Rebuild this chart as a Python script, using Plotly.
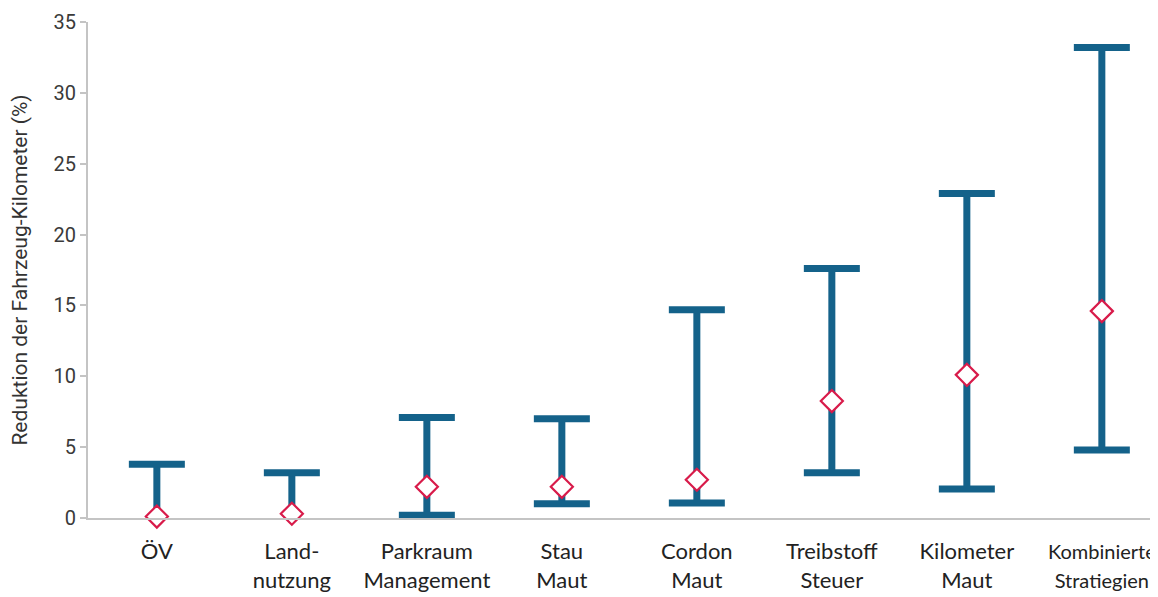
import plotly.graph_objects as go

categories = ["ÖV", "Land-<br>nutzung", "Parkraum<br>Management", "Stau<br>Maut",
              "Cordon<br>Maut", "Treibstoff<br>Steuer", "Kilometer<br>Maut",
              "<span style='font-size:20px'>Kombinierte<br>Stratiegien</span>"]
lowValues = [0.0, 0.0, 0.2, 1.0, 1.05, 3.2, 2.05, 4.8]
highValues = [3.8, 3.2, 7.1, 7.0, 14.7, 17.6, 22.9, 33.2]
midValues = [0.1, 0.3, 2.2, 2.2, 2.7, 8.25, 10.1, 14.6]
hasLowCap = [False, False, True, True, True, True, True, True]

barColor = '#14628a'
pointColor = '#d81b4a'

xs = list(range(len(categories)))

fig = go.Figure()

# stems
stemX, stemY = [], []
for i in xs:
    stemX += [i, i, None]
    stemY += [lowValues[i], highValues[i], None]
fig.add_trace(go.Scatter(x=stemX, y=stemY, mode='lines',
                         line=dict(color=barColor, width=7),
                         showlegend=False, hoverinfo='skip', cliponaxis=False))

# caps
capX = xs + [i for i in xs if hasLowCap[i]]
capY = highValues + [lowValues[i] for i in xs if hasLowCap[i]]
fig.add_trace(go.Scatter(x=capX, y=capY, mode='markers',
                         marker=dict(symbol='line-ew', size=40,
                                     line=dict(color=barColor, width=7)),
                         showlegend=False, hoverinfo='skip', cliponaxis=False))

# mean values
fig.add_trace(go.Scatter(x=xs, y=midValues, mode='markers',
                         marker=dict(symbol='diamond', size=17, color='white',
                                     line=dict(color=pointColor, width=2.2)),
                         showlegend=False, cliponaxis=False))

# page body has an 8px margin, so the figure starts at (8, 8)
fig.update_layout(
    width=1150,
    height=589,
    margin=dict(l=80, r=0, t=14, b=79),
    plot_bgcolor='white',
    paper_bgcolor='white',
    font=dict(family="Lato, sans-serif", size=18, color="#222"),
    xaxis=dict(
        tickmode='array', tickvals=xs, ticktext=categories,
        range=[-0.51, 7.416], automargin=False,
        showgrid=False, zeroline=False,
        showline=True, linecolor='#c4c4c4', linewidth=2,
        ticks='', ticklabelstandoff=13, ticklabeloverflow='allow',
        tickfont=dict(family="Lato, sans-serif", size=22, color='#222'),
    ),
    yaxis=dict(
        range=[0, 35], tickvals=[0, 5, 10, 15, 20, 25, 30, 35],
        automargin=False,
        showgrid=False, zeroline=False,
        showline=True, linecolor='#c4c4c4', linewidth=2,
        ticks='outside', ticklen=6, tickcolor='#c4c4c4', tickwidth=2,
        tickfont=dict(family="Roboto, sans-serif", size=20, color='#3a3a3a'),
        title=dict(text='Reduktion der Fahrzeug-Kilometer (%)',
                   font=dict(family="Roboto, sans-serif", size=21, color='#333'),
                   standoff=23),
    ),
)

fig.write_html("out.html")
